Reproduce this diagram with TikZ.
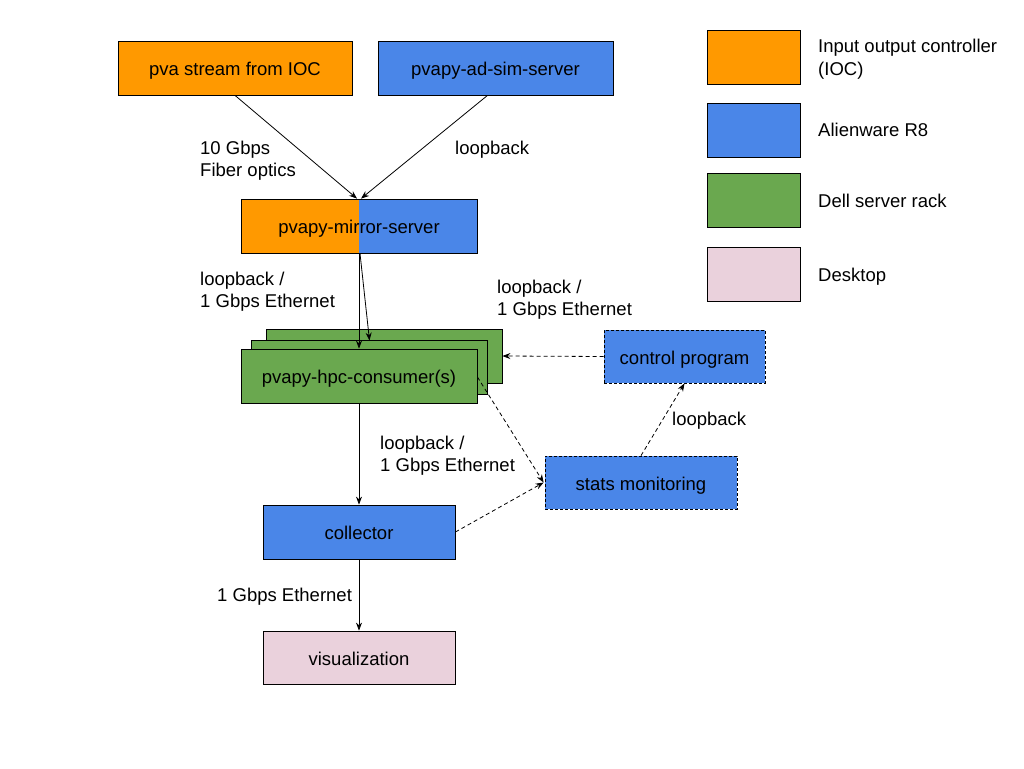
\documentclass[tikz,border=0pt]{standalone}
\usepackage{fontspec}
\setmainfont{Liberation Sans}
\usetikzlibrary{arrows.meta}
\definecolor{iocorange}{HTML}{FF9900}
\definecolor{alienblue}{HTML}{4A86E8}
\definecolor{dellgreen}{HTML}{6AA84F}
\definecolor{desktoppink}{HTML}{EAD1DC}
\newcommand\twolines[2]{\vtop{\hbox{#1}\hbox{#2}}}
\tikzset{
  box/.style={draw=black, line width=0.8pt, inner sep=0pt, minimum width=236pt, minimum height=54pt, text height=15.4pt, text depth=0pt, font=\fontsize{18.5}{23}\selectfont},
  dbox/.style={box, dash pattern=on 3pt off 2pt},
  lbl/.style={anchor=base west, inner sep=0pt, font=\fontsize{18.5}{22.7}\selectfont},
  arr/.style={draw=black, line width=0.8pt, -{Stealth[length=8pt,width=6pt]}},
  darr/.style={arr, dash pattern=on 4pt off 3pt},
}
\begin{document}
\begin{tikzpicture}[x=1pt,y=-1pt]
\useasboundingbox[fill=white] (0,0) rectangle (1024,768);
% top boxes
\node[box, fill=iocorange, minimum width=234pt] (ioc) at (235,68) {pva stream from IOC};
\node[box, fill=alienblue, minimum width=235pt] (sim) at (495.5,68) {pvapy-ad-sim-server};
% mirror
\node[box, fill=alienblue, path picture={\fill[iocorange] (path picture bounding box.south west) rectangle (path picture bounding box.north);}] (mirror) at (359,226) {pvapy-mirror-server};
% consumers
\node[box, fill=dellgreen] (back) at (384,356) {};
\node[box, fill=dellgreen] (mid) at (369.5,367) {};
\node[box, fill=dellgreen] (front) at (359,376) {pvapy-hpc-consumer(s)};
% others
\node[dbox, fill=alienblue, minimum width=161pt, minimum height=53pt] (control) at (684.5,356.5) {control program};
\node[dbox, fill=alienblue, minimum width=192pt, minimum height=53pt] (stats) at (641,482.5) {stats monitoring};
\node[box, fill=alienblue, minimum width=192pt] (collector) at (359,532) {collector};
\node[box, fill=desktoppink, minimum width=192pt, minimum height=53pt] (vis) at (359,657.5) {visualization};
% legend
\node[box, fill=iocorange, minimum width=93pt] (lg1) at (753.5,57.5) {};
\node[box, fill=alienblue, minimum width=93pt] (lg2) at (753.5,130) {};
\node[box, fill=dellgreen, minimum width=93pt] (lg3) at (753.5,200.5) {};
\node[box, fill=desktoppink, minimum width=93pt] (lg4) at (753.5,274.5) {};
\node[lbl] (lt1) at (818,52.5) {\twolines{Input output controller}{(IOC)}};
\node[lbl] (lt2) at (818,136) {Alienware R8};
\node[lbl] (lt3) at (818,207) {Dell server rack};
\node[lbl] (lt4) at (818,281) {Desktop};
% connectors
\draw[arr] (ioc.south) -- ([xshift=-2pt]mirror.north);
\draw[arr] ([xshift=-8pt]sim.south) -- ([xshift=2pt]mirror.north);
\draw[arr] (mirror.south) -- (front.north);
\draw[arr] ([xshift=1pt]mirror.south) -- ([yshift=-1pt]mid.north);
\draw[arr] (front.south) -- (collector.north);
\draw[arr] (collector.south) -- (vis.north);
\draw[darr] (control.west) -- (back.east);
\draw[darr] ([yshift=-1pt]front.east) -- ([xshift=-1pt]stats.west);
\draw[darr] (collector.east) -- ([xshift=-1pt]stats.west);
\draw[darr] (stats.north) -- (control.south);
% edge labels
\node[lbl] (l1) at (200,154) {\twolines{10 Gbps}{Fiber optics}};
\node[lbl] (l2) at (455,154) {loopback};
\node[lbl] (l3) at (200,285) {\twolines{loopback /}{1 Gbps Ethernet}};
\node[lbl] (l4) at (497,293) {\twolines{loopback /}{1 Gbps Ethernet}};
\node[lbl] (l5) at (380,449) {\twolines{loopback /}{1 Gbps Ethernet}};
\node[lbl] (l6) at (672,425) {loopback};
\node[lbl] (l7) at (217,601) {1 Gbps Ethernet};
\end{tikzpicture}
\end{document}
